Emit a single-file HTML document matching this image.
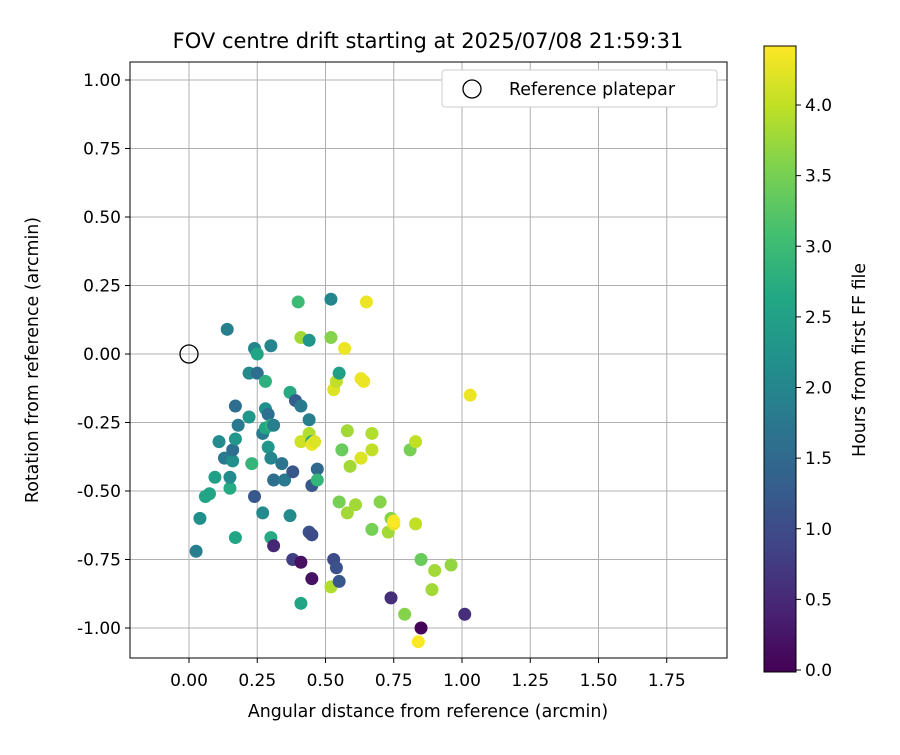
<!DOCTYPE html>
<html><head><meta charset="utf-8"><style>
body{margin:0;background:#fff}
svg text{font-family:"DejaVu Sans","Liberation Sans",sans-serif;fill:#000}
</style></head><body>
<svg id="chart" width="900" height="750" viewBox="0 0 900 750">
<defs>
<linearGradient id="vir" x1="0" y1="1" x2="0" y2="0">
<stop offset="0" stop-color="#440154"/><stop offset="0.1" stop-color="#482475"/><stop offset="0.2" stop-color="#414487"/><stop offset="0.3" stop-color="#355f8d"/><stop offset="0.4" stop-color="#2a788e"/><stop offset="0.5" stop-color="#21918c"/><stop offset="0.6" stop-color="#22a884"/><stop offset="0.7" stop-color="#44bf70"/><stop offset="0.8" stop-color="#7ad151"/><stop offset="0.9" stop-color="#bddf26"/><stop offset="1" stop-color="#fde725"/>
</linearGradient>
</defs>
<g id="grid"></g>
<g id="pts"></g>
<rect x="130" y="62" width="597" height="596" fill="none" stroke="#000" stroke-width="1"/>
<g id="ticks"></g>
<text x="428" y="48" font-size="21" text-anchor="middle">FOV centre drift starting at 2025/07/08 21:59:31</text>
<text x="428" y="717" font-size="17.4" text-anchor="middle">Angular distance from reference (arcmin)</text>
<text x="0" y="0" font-size="17.4" text-anchor="middle" transform="translate(38,360) rotate(-90)">Rotation from reference (arcmin)</text>
<g>
<rect x="442" y="70" width="275" height="37" rx="3" fill="#fff" stroke="#ccc"/>
<circle cx="472" cy="89" r="9" fill="none" stroke="#000" stroke-width="1.3"/>
<text x="509" y="95" font-size="17.4">Reference platepar</text>
</g>
<rect x="764" y="46" width="32" height="626" fill="url(#vir)" stroke="#000" stroke-width="1"/>
<g id="cticks"></g>
<text x="0" y="0" font-size="17.4" text-anchor="middle" transform="translate(865,360) rotate(-90)">Hours from first FF file</text>
</svg>
<script>
const xs=[0.026,0.04,0.06,0.075,0.095,0.11,0.13,0.14,0.15,0.15,0.16,0.16,0.17,0.17,0.18,0.17,0.22,0.22,0.23,0.24,0.24,0.25,0.25,0.27,0.27,0.28,0.28,0.29,0.28,0.29,0.30,0.30,0.30,0.30,0.31,0.31,0.31,0.34,0.35,0.37,0.37,0.38,0.38,0.39,0.40,0.41,0.41,0.41,0.41,0.41,0.44,0.44,0.44,0.44,0.45,0.45,0.45,0.45,0.45,0.47,0.47,0.46,0.52,0.52,0.52,0.53,0.53,0.54,0.54,0.55,0.55,0.55,0.56,0.57,0.58,0.58,0.59,0.61,0.63,0.63,0.64,0.65,0.67,0.67,0.67,0.70,0.74,0.73,0.75,0.75,0.74,0.79,0.81,0.83,0.83,0.84,0.85,0.85,0.89,0.90,0.96,1.01,1.03];
const ys=[-0.72,-0.60,-0.52,-0.51,-0.45,-0.32,-0.38,0.09,-0.49,-0.45,-0.39,-0.35,-0.31,-0.19,-0.26,-0.67,-0.07,-0.23,-0.40,-0.52,0.02,0.0,-0.07,-0.58,-0.29,-0.10,-0.20,-0.22,-0.27,-0.34,0.03,-0.26,-0.38,-0.67,-0.26,-0.70,-0.46,-0.40,-0.46,-0.59,-0.14,-0.75,-0.43,-0.17,0.19,-0.76,-0.91,-0.32,0.06,-0.19,0.05,-0.29,-0.24,-0.65,-0.66,-0.32,-0.33,-0.82,-0.48,-0.42,-0.46,-0.32,-0.85,0.20,0.06,-0.75,-0.13,-0.78,-0.10,-0.54,-0.83,-0.07,-0.35,0.02,-0.28,-0.58,-0.41,-0.55,-0.38,-0.09,-0.10,0.19,-0.64,-0.29,-0.35,-0.54,-0.60,-0.65,-0.62,-0.61,-0.89,-0.95,-0.35,-0.32,-0.62,-1.05,-1.00,-0.75,-0.86,-0.79,-0.77,-0.95,-0.15];
const hours=[1.9,2.2,2.6,2.6,2.5,2.1,1.8,1.9,2.7,2.1,2.2,1.6,2.3,1.6,1.8,2.6,2.1,2.3,2.9,1.2,2.0,2.6,1.6,2.1,1.8,2.8,2.2,1.6,2.6,2.3,2.0,2.8,2.0,2.7,1.9,0.5,1.6,1.7,1.8,2.1,2.7,0.8,1.2,1.3,3.0,0.2,2.6,4.1,3.8,1.8,2.3,3.9,1.9,1.1,1.0,2.5,4.3,0.2,1.2,1.5,2.9,4.2,3.9,2.0,3.6,1.0,4.2,1.1,4.0,3.5,1.2,2.5,3.4,4.3,3.8,3.8,3.8,3.8,4.2,4.3,4.3,4.3,3.5,3.9,4.0,3.6,3.6,3.8,4.3,4.4,0.6,3.6,3.5,4.0,4.0,4.4,0.05,3.4,3.8,3.8,3.7,0.6,4.3];
const xTicks=[0,0.25,0.5,0.75,1.0,1.25,1.5,1.75];
const yTicks=[1.0,0.75,0.5,0.25,0,-0.25,-0.5,-0.75,-1.0];
const cTicks=[0,0.5,1.0,1.5,2.0,2.5,3.0,3.5,4.0];
const X=v=>189+v*273, Y=v=>354-v*274, C=h=>670-h*141.25;
const vir=[[68,1,84],[72,36,117],[65,68,135],[53,95,141],[42,120,142],[33,145,140],[34,168,132],[68,191,112],[122,209,81],[189,223,38],[253,231,37]];
function col(t){t=Math.max(0,Math.min(1,t))*10;const i=Math.min(9,Math.floor(t)),f=t-i,a=vir[i],b=vir[i+1];return 'rgb('+a.map((v,k)=>Math.round(v+(b[k]-v)*f)).join(',')+')';}
const NS='http://www.w3.org/2000/svg';
function mk(tag,at,parent){const e=document.createElementNS(NS,tag);for(const k in at)e.setAttribute(k,at[k]);parent.appendChild(e);return e;}
const grid=document.getElementById('grid'),ticks=document.getElementById('ticks'),pts=document.getElementById('pts'),ct=document.getElementById('cticks');
xTicks.forEach(v=>{const x=X(v);
const g=mk('line',{x1:x,x2:x,y1:62,y2:658,stroke:'#b0b0b0','stroke-width':1},grid);


const t=mk('line',{x1:x,x2:x,y1:658,y2:663,stroke:'#000'},ticks);


const l=mk('text',{x:x,y:686,'font-size':17,'text-anchor':'middle'},ticks);l.textContent=v.toFixed(2);

});
yTicks.forEach(v=>{const y=Y(v);
const g=mk('line',{x1:130,x2:727,y1:y,y2:y,stroke:'#b0b0b0','stroke-width':1},grid);


const t=mk('line',{x1:125,x2:130,y1:y,y2:y,stroke:'#000'},ticks);


const l=mk('text',{x:121,y:y+6,'font-size':17,'text-anchor':'end'},ticks);l.textContent=v.toFixed(2);

});
const hmax=4.42;
xs.forEach((v,i)=>{const c=mk('circle',{cx:X(v),cy:Y(ys[i]),r:6.5,fill:col(hours[i]/hmax)},pts);

});
const ref=mk('circle',{cx:X(0),cy:Y(0),r:9,fill:'none',stroke:'#000','stroke-width':1.3},pts);


cTicks.forEach(v=>{const y=C(v);
const t=mk('line',{x1:796,x2:801,y1:y,y2:y,stroke:'#000'},ct);


const l=mk('text',{x:805,y:y+6,'font-size':17},ct);l.textContent=v.toFixed(1);

});
</script>
</body></html>
